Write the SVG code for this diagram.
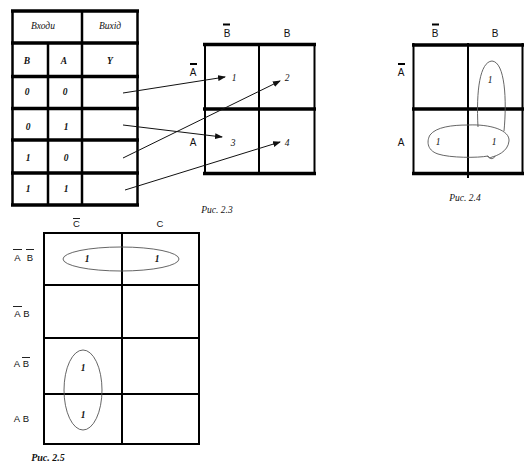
<svg xmlns="http://www.w3.org/2000/svg" width="529" height="462" viewBox="0 0 529 462">
<style>
.bg{fill:#fff}
.t{font-family:"Liberation Serif",serif;font-style:italic;font-size:9.5px;fill:#111;text-anchor:middle}
.tb{font-family:"Liberation Serif",serif;font-style:italic;font-weight:bold;font-size:9.5px;fill:#111;text-anchor:middle}
.lab{font-family:"Liberation Sans",sans-serif;font-size:10px;fill:#111;text-anchor:middle}
.lab5{font-family:"Liberation Sans",sans-serif;font-size:9.5px;fill:#111;text-anchor:middle}
.thick{stroke:#000;stroke-width:3.5;fill:none}
.mid{stroke:#000;stroke-width:2.5;fill:none}
.thin{stroke:#000;stroke-width:2;fill:none}
.bar{stroke:#000;stroke-width:2}
.bar1{stroke:#222;stroke-width:1}
.conn{stroke:#111;stroke-width:1;fill:none;marker-end:url(#ah)}
.ell{stroke:#555;stroke-width:0.9;fill:none}
</style>
<defs>
<marker id="ah" markerWidth="8" markerHeight="6" refX="7" refY="3" orient="auto" markerUnits="userSpaceOnUse">
<path d="M0,0 L8,3 L0,6 Z" fill="#111"/>
</marker>
</defs>
<rect class="bg" x="0" y="0" width="529" height="462"/>

<g id="truth-table">
<line class="thick" x1="11" y1="11" x2="139" y2="11"/>
<line class="thick" x1="11" y1="43" x2="139" y2="43"/>
<line class="thick" x1="11" y1="76.5" x2="139" y2="76.5"/>
<line class="thick" x1="11" y1="108.5" x2="139" y2="108.5"/>
<line class="thick" x1="11" y1="140" x2="139" y2="140"/>
<line class="thick" x1="11" y1="173" x2="139" y2="173"/>
<line class="thick" x1="11" y1="205" x2="139" y2="205"/>
<line class="mid" x1="12.5" y1="11" x2="12.5" y2="205"/>
<line class="mid" x1="137.5" y1="11" x2="137.5" y2="205"/>
<line class="mid" x1="82" y1="11" x2="82" y2="205"/>
<line class="mid" x1="48" y1="43" x2="48" y2="205"/>
<text class="t" x="43" y="29">Входи</text>
<text class="t" x="110" y="29">Вихід</text>
<text class="tb" x="27" y="64">B</text>
<text class="tb" x="64" y="64">A</text>
<text class="tb" x="110" y="64">Y</text>
<text class="tb" x="27" y="95">0</text>
<text class="tb" x="65" y="95">0</text>
<text class="tb" x="28" y="130">0</text>
<text class="tb" x="66" y="130">1</text>
<text class="tb" x="28" y="161">1</text>
<text class="tb" x="66" y="161">0</text>
<text class="tb" x="28" y="192">1</text>
<text class="tb" x="66" y="192">1</text>
</g>

<g id="kmap-2-3">
<line class="thick" x1="203" y1="44.5" x2="316" y2="44.5"/>
<line class="thick" x1="203" y1="109" x2="316" y2="109"/>
<line class="thick" x1="203" y1="173.5" x2="316" y2="173.5"/>
<line class="thin" x1="205" y1="43" x2="205" y2="175"/>
<line class="thin" x1="314.5" y1="43" x2="314.5" y2="175"/>
<line class="thin" x1="259" y1="43" x2="259" y2="175"/>
<line class="bar" x1="223" y1="24.5" x2="230" y2="24.5"/>
<text class="lab" x="227" y="37">B</text>
<text class="lab" x="287" y="37">B</text>
<line class="bar" x1="190" y1="64" x2="197" y2="64"/>
<text class="lab" x="193" y="76">A</text>
<text class="lab" x="193" y="146">A</text>
<text class="t" x="234" y="81">1</text>
<text class="t" x="287" y="81">2</text>
<text class="t" x="233" y="146">3</text>
<text class="t" x="287" y="146">4</text>
<text class="t" x="217" y="213">Рис. 2.3</text>
</g>

<g id="kmap-2-4">
<line class="thick" x1="412" y1="45" x2="524" y2="45"/>
<line class="thick" x1="412" y1="109" x2="524" y2="109"/>
<line class="thick" x1="412" y1="173.5" x2="524" y2="173.5"/>
<line class="thin" x1="413.5" y1="43" x2="413.5" y2="175"/>
<line class="thin" x1="522.5" y1="43" x2="522.5" y2="175"/>
<line class="thin" x1="468" y1="43" x2="468" y2="178"/>
<line class="bar" x1="432" y1="24.5" x2="439" y2="24.5"/>
<text class="lab" x="435" y="37">B</text>
<text class="lab" x="495" y="37">B</text>
<line class="bar" x1="398" y1="64" x2="405" y2="64"/>
<text class="lab" x="401" y="76">A</text>
<text class="lab" x="401" y="146">A</text>
<text class="t" x="490" y="83">1</text>
<text class="t" x="438" y="145">1</text>
<text class="t" x="494" y="145">1</text>
<path class="ell" d="M478,127 C476,90 480,62 492,61 C505,62 507,100 504,131"/>
<path class="ell" d="M468,125 C490,124 510,130 509,141 C508,152 496,156 492,157 C489,159 487,156 488,156 C478,158 450,158 438,154 C426,150 427,140 430,135 C436,127 452,125 468,125 Z"/>
<path class="ell" d="M488,156 C490,160 494,159 495,156"/>
<text class="t" x="465" y="201">Рис. 2.4</text>
</g>

<g id="kmap-2-5">
<line class="thin" x1="43" y1="233" x2="200" y2="233"/>
<line class="thin" x1="43" y1="285" x2="200" y2="285"/>
<line class="thin" x1="43" y1="338" x2="200" y2="338"/>
<line class="thin" x1="43" y1="394" x2="200" y2="394"/>
<line class="thin" x1="43" y1="444" x2="200" y2="444"/>
<line class="thin" x1="44" y1="232" x2="44" y2="445"/>
<line class="thin" x1="199" y1="232" x2="199" y2="445"/>
<line class="thin" x1="122" y1="232" x2="122" y2="445"/>
<line class="bar1" x1="73" y1="218.5" x2="80" y2="218.5"/>
<text class="lab5" x="76.5" y="226.5">C</text>
<text class="lab5" x="160" y="226.5">C</text>
<line class="bar1" x1="13" y1="249.5" x2="22" y2="249.5"/>
<line class="bar1" x1="26" y1="249.5" x2="34" y2="249.5"/>
<text class="lab5" x="17.5" y="261">A</text>
<text class="lab5" x="30" y="261">B</text>
<line class="bar1" x1="13" y1="306.5" x2="22" y2="306.5"/>
<text class="lab5" x="17.5" y="317">A</text>
<text class="lab5" x="26.5" y="317">B</text>
<line class="bar1" x1="22" y1="357.5" x2="30" y2="357.5"/>
<text class="lab5" x="17" y="367">A</text>
<text class="lab5" x="26" y="367">B</text>
<text class="lab5" x="17" y="422">A</text>
<text class="lab5" x="26" y="422">B</text>
<ellipse class="ell" cx="121" cy="259" rx="58" ry="12"/>
<text class="tb" x="87" y="262">1</text>
<text class="tb" x="157" y="262">1</text>
<ellipse class="ell" cx="83" cy="390" rx="19" ry="40"/>
<text class="tb" x="83" y="371">1</text>
<text class="tb" x="83" y="418">1</text>
<text class="tb" x="48" y="461" style="font-size:10px">Рис. 2.5</text>
</g>

<g id="connectors">
<line class="conn" x1="123" y1="93" x2="225" y2="77"/>
<line class="conn" x1="123" y1="125" x2="222" y2="137"/>
<line class="conn" x1="123" y1="158" x2="280" y2="81"/>
<line class="conn" x1="125" y1="190" x2="280" y2="142"/>
</g>
</svg>
